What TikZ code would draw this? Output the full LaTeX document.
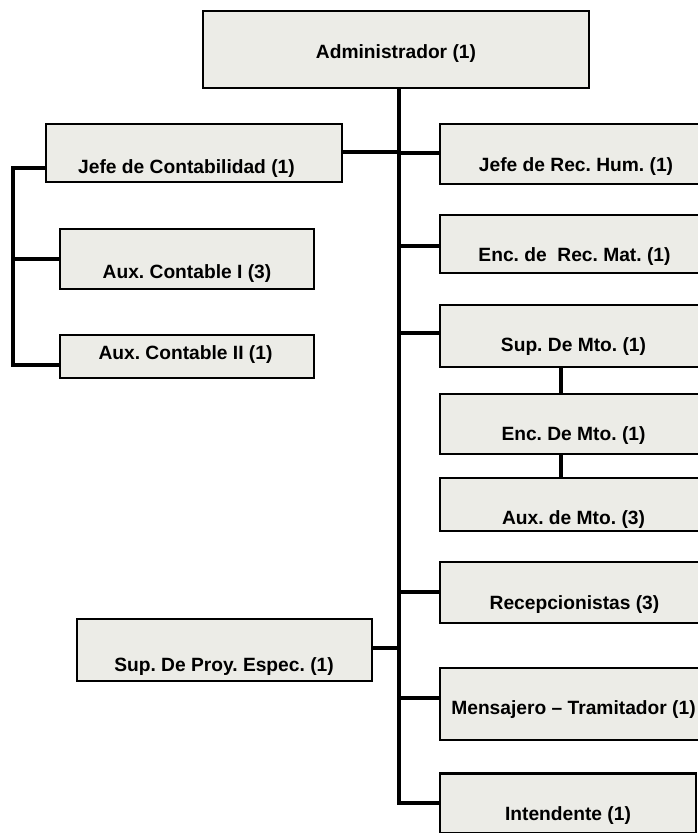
\documentclass[tikz,border=0pt]{standalone}
\usepackage{fontspec}
\setmainfont{Liberation Sans}
\frenchspacing
\definecolor{boxfill}{RGB}{236,236,231}
\newcommand{\bxt}[3]{\makebox[0pt][c]{\hspace*{#1}\raisebox{-#2}[0pt][0pt]{#3}}}
\begin{document}
\begin{tikzpicture}[x=1pt,y=-1pt,
  orgbox/.style={draw=black, line width=2.2pt, fill=boxfill, rectangle, inner sep=0pt,
    font=\fontsize{19.2}{21}\selectfont\bfseries\frenchspacing},
  conn/.style={draw=black, line width=3.2pt}]
\useasboundingbox (0,0) rectangle (698,833);
\clip (0,0) rectangle (698,833);
% boxes
\node[orgbox, minimum width=386pt, minimum height=77pt] (admin) at (396,49.5) {\bxt{0pt}{8.5pt}{Administrador (1)}};
\node[orgbox, minimum width=296pt, minimum height=58pt] (jefec) at (194,153) {\bxt{-15pt}{20pt}{Jefe de Contabilidad (1)}};
\node[orgbox, minimum width=254pt, minimum height=60pt] (auxi) at (187,259) {\bxt{0pt}{19pt}{Aux. Contable I (3)}};
\node[orgbox, minimum width=254pt, minimum height=43pt] (auxii) at (187,356.5) {\bxt{-3pt}{2.5pt}{Aux. Contable II (1)}};
\node[orgbox, minimum width=269pt, minimum height=60pt] (jeferh) at (574.5,154) {\bxt{3pt}{17pt}{Jefe de Rec. Hum. (1)}};
\node[orgbox, minimum width=269pt, minimum height=58pt] (encrm) at (574.5,244) {\bxt{0pt}{17pt}{Enc. de \ Rec. Mat. (1)}};
\node[orgbox, minimum width=269pt, minimum height=62pt] (supmto) at (574.5,336) {\bxt{-2pt}{15pt}{Sup. De Mto. (1)}};
\node[orgbox, minimum width=269pt, minimum height=60pt] (encmto) at (574.5,424) {\bxt{-2pt}{16pt}{Enc. De Mto. (1)}};
\node[orgbox, minimum width=269pt, minimum height=53pt] (auxmto) at (574.5,504.5) {\bxt{-2pt}{19.5pt}{Aux. de Mto. (3)}};
\node[orgbox, minimum width=269pt, minimum height=61pt] (recep) at (574.5,592.5) {\bxt{0pt}{16.5pt}{Recepcionistas (3)}};
\node[orgbox, minimum width=269pt, minimum height=72pt] (mens) at (574.5,704) {\bxt{-2pt}{10pt}{Mensajero – Tramitador (1)}};
\node[orgbox, minimum width=256pt, minimum height=60pt] (intend) at (568,803.5) {\bxt{0pt}{16.5pt}{Intendente (1)}};
\node[orgbox, minimum width=295pt, minimum height=62pt] (supproy) at (224.5,650) {\bxt{-1pt}{21pt}{Sup. De Proy. Espec. (1)}};
% trunk
\coordinate (trunkx) at (399,0);
\coordinate (lbus) at (13,168);
\draw[conn] (admin.south -| trunkx) -- (trunkx |- 0,804.5);
% right branches
\draw[conn] (trunkx |- 0,153) -- (jeferh.west |- 0,153);
\draw[conn] (trunkx |- 0,246) -- (encrm.west |- 0,246);
\draw[conn] (trunkx |- 0,333) -- (supmto.west |- 0,333);
\draw[conn] (trunkx |- 0,592) -- (recep.west |- 0,592);
\draw[conn] (trunkx |- 0,698) -- (mens.west |- 0,698);
\draw[conn] (trunkx |- 0,803) -- (intend.west |- 0,803);
% left branches
\draw[conn] (jefec.east |- 0,152) -- (trunkx |- 0,152);
\draw[conn] (supproy.east |- 0,648) -- (trunkx |- 0,648);
% accounting group
\draw[conn] (jefec.west |- 0,168) -- (lbus) |- (auxii.west |- 0,365);
\draw[conn] (lbus |- 0,259) -- (auxi.west |- 0,259);
% maintenance chain
\draw[conn] (supmto.south -| 561,0) -- (encmto.north -| 561,0);
\draw[conn] (encmto.south -| 561,0) -- (auxmto.north -| 561,0);
\end{tikzpicture}
\end{document}
